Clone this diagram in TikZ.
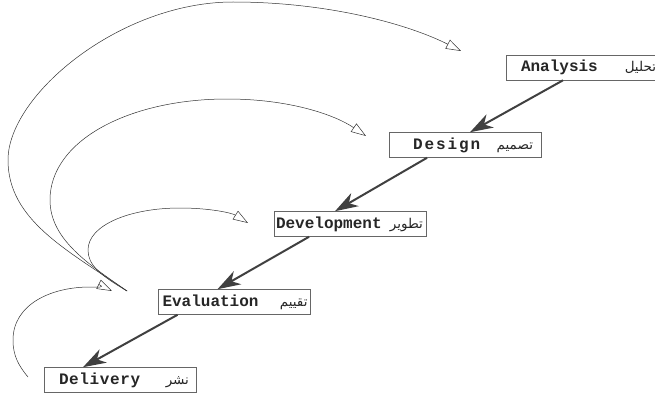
\documentclass[tikz,border=0pt]{standalone}
\usepackage{fontspec}
\setmonofont{Liberation Mono}
\newfontfamily\arabicfont[Script=Arabic]{DejaVu Sans}
\TeXXeTstate=1
\usetikzlibrary{arrows.meta, calc}

% box text: left gap, English word, Arabic word, right gap
\newcommand{\stagetext}[4]{\makebox[148pt][s]{\hspace*{#1}{\ttfamily\bfseries\fontsize{16}{18}\selectfont #2}\hfill{\arabicfont\fontsize{13.5}{15}\selectfont\beginR #3\endR}\hspace*{#4}}}

\begin{document}
\begin{tikzpicture}[x=1pt, y=-1pt,
    stage/.style={draw=black!60, line width=0.6pt, inner xsep=2pt, inner ysep=0pt, minimum height=25pt, text=black!85},
    flow/.style={line width=2pt, black!75, -{Stealth[length=23pt, width=15pt, inset=7pt]}},
    back/.style={line width=0.5pt, black!80, -{Triangle[open, length=15pt, width=10pt]}}]
    \useasboundingbox (0,0) rectangle (655,396);
    % stages
    \node[stage] (an) at (582,67.5) {\stagetext{13pt}{Analysis}{تحليل}{0pt}};
    \node[stage] (de) at (465,145) {\stagetext{22pt}{\addfontfeature{LetterSpace=12}Design}{تصميم}{6pt}};
    \node[stage] (dv) at (350,224) {\stagetext{0pt}{Development}{تطوير}{1pt}};
    \node[stage] (ev) at (234.5,302) {\stagetext{2pt}{Evaluation}{تقييم}{1pt}};
    \node[stage] (dl) at (120,380) {\stagetext{13pt}{\addfontfeature{LetterSpace=4}Delivery}{نشر}{5pt}};
    % forward arrows
    \draw[flow] ($(an.south)+(-19,0)$) -- ($(de.north)+(5,0)$);
    \draw[flow] ($(de.south)+(-38,0)$) -- ($(dv.north)+(-15,0)$);
    \draw[flow] ($(dv.south)+(-41,0)$) -- ($(ev.north)+(-17,0)$);
    \draw[flow] ($(ev.south)+(-57,0)$) -- ($(dl.north)+(-37,0)$);
    % feedback arcs
    \coordinate (fb) at (127,291);
    \coordinate (fb-dl) at (28,377);
    \coordinate (to-an) at (461,51);
    \coordinate (to-de) at (366,136);
    \coordinate (to-dv) at (248,223);
    \coordinate (to-ev) at (112,291);
    \draw[back] (fb) .. controls (67,250) and (8,220) .. (8,160)
        .. controls (8,95) and (120,2) .. (233,2)
        .. controls (330,2) and (410,25) .. (to-an);
    \draw[back] (fb) .. controls (90,265) and (50,240) .. (50,200)
        .. controls (50,140) and (130,99) .. (227,99)
        .. controls (290,99) and (335,115) .. (to-de);
    \draw[back] (fb) .. controls (100,275) and (88,265) .. (88,250)
        .. controls (88,225) and (130,208) .. (180,208)
        .. controls (210,208) and (232,213) .. (to-dv);
    \draw[back] (fb-dl) .. controls (18,365) and (13,355) .. (13,340)
        .. controls (13,305) and (50,287) .. (90,287)
        .. controls (98,287) and (106,288) .. (to-ev);
\end{tikzpicture}
\end{document}
